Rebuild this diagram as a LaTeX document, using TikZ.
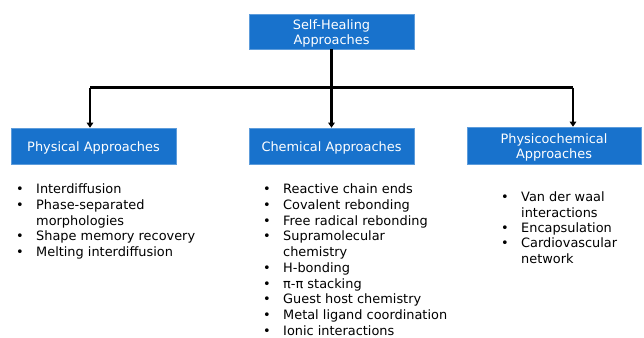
\documentclass[tikz,border=0pt]{standalone}
\usepackage{fontspec}
\setmainfont{DejaVu Sans}
\usetikzlibrary{arrows.meta}
\definecolor{boxblue}{RGB}{24,114,204}
\tikzset{
  headbox/.style={fill=boxblue, draw=boxblue!70!white, line width=0.6pt, inner sep=0pt},
  headtext/.style={text=white, align=center, inner sep=0pt, font=\fontsize{12.9}{15}\selectfont},
  conn/.style={line width=2.2pt, black},
  arr/.style={conn, -{Triangle[length=5pt,width=6.5pt]}},
  listnode/.style={anchor=north west, inner sep=0pt, align=left}
}
\newcommand{\blist}[2]{\fontsize{12.9}{#1}\selectfont\renewcommand\arraystretch{1}\begin{tabular}{@{}l@{}l@{}}#2\end{tabular}}
\newcommand{\bl}{\makebox[20pt][l]{\textbullet}}
\begin{document}
\begin{tikzpicture}[x=1pt,y=-1pt]
\useasboundingbox (0,0) rectangle (644,337);
\node[headbox, minimum width=165pt, minimum height=35pt] (top) at (331.5,31.5) {};
\node[headtext] (topt) at (331.5,33.5) {Self-Healing\\Approaches};
\node[headbox, minimum width=165pt, minimum height=36pt] (phys) at (93.5,146) {};
\node[headtext] (physt) at (93.5,148) {Physical Approaches};
\node[headbox, minimum width=165pt, minimum height=36pt] (chem) at (331.5,146) {};
\node[headtext] (chemt) at (331.5,148) {Chemical Approaches};
\node[headbox, minimum width=174pt, minimum height=37pt] (pc) at (554,145.5) {};
\node[headtext] (pct) at (554,147.3) {Physicochemical\\Approaches};
\coordinate (j) at (331.5,87.5);
\coordinate (jl) at (90,87.5);
\coordinate (jr) at (573,87.5);
\draw[conn] (top.south) -- (j);
\draw[conn] (jl) -- (jr);
\draw[arr] (jl) -- (jl |- phys.north);
\draw[arr] (j) -- (chem.north);
\draw[arr] (jr) -- (jr |- pc.north);
\node[listnode] (l1) at (16,182.5) {\blist{15.7}{
\bl & Interdiffusion\\
 & Phase-separated\\[-15.7pt]
\bl & \\
 & morphologies\\
\bl & Shape memory recovery\\
\bl & Melting interdiffusion}};
\node[listnode] (l2) at (263,182.5) {\blist{15.74}{
\bl & Reactive chain ends\\
\bl & Covalent rebonding\\
\bl & Free radical rebonding\\
\bl & Supramolecular\\
 & chemistry\\
\bl & H-bonding\\
\bl & π-π stacking\\
\bl & Guest host chemistry\\
\bl & Metal ligand coordination\\
\bl & Ionic interactions}};
\node[listnode] (l3) at (501,191) {\blist{15.3}{
\bl & Van der waal\\
 & interactions\\
\bl & Encapsulation\\
\bl & Cardiovascular\\
 & network}};
\end{tikzpicture}
\end{document}
